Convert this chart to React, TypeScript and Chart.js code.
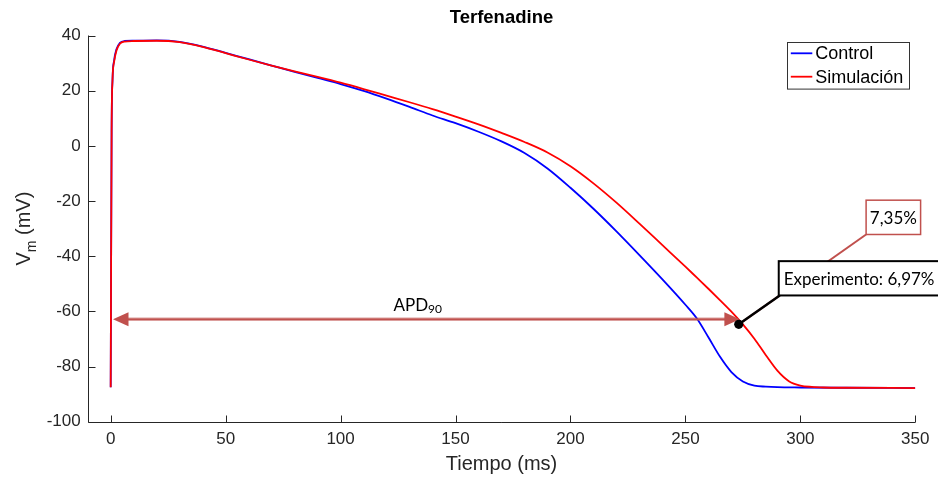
import React, { useEffect, useRef } from 'react';
import { Chart, registerables } from 'chart.js';

Chart.register(...registerables);

// ---- Data ----
const timeControl = [0, 0.4, 0.8, 1.5, 2.5, 4, 6, 10, 20, 30, 40, 50, 60, 70, 80, 90, 100, 110, 120, 130, 140, 150, 160, 170, 180, 190, 200, 210, 220, 230, 240, 250, 255, 260, 265, 270, 275, 280, 285, 290, 300, 320, 350];
const vmControl = [-87.5, 5, 24, 31, 35, 37.3, 38.0, 38.1, 38.2, 37.7, 36.0, 33.7, 31.4, 29.1, 26.8, 24.6, 22.4, 19.9, 17.1, 14.1, 11.0, 8.2, 5.1, 1.6, -2.6, -8.2, -15.2, -22.8, -31.0, -39.6, -48.4, -57.6, -62.6, -69.4, -76.4, -82.0, -85.4, -86.9, -87.3, -87.5, -87.6, -87.7, -87.8];

const timeSimulacion = [0, 0.4, 0.8, 1.5, 2.5, 4, 6, 10, 20, 30, 40, 50, 60, 70, 80, 90, 100, 110, 120, 130, 140, 150, 160, 170, 180, 190, 200, 210, 220, 230, 240, 250, 255, 260, 265, 270, 275, 280, 285, 290, 295, 300, 305, 310, 320, 350];
const vmSimulacion = [-87.5, 5, 24, 30.5, 34.5, 37, 37.8, 38.0, 38.1, 37.6, 35.9, 33.6, 31.3, 29.1, 27.0, 25.0, 22.9, 20.6, 18.2, 15.8, 13.3, 10.6, 7.8, 4.7, 1.4, -2.4, -7.4, -13.6, -20.6, -28.2, -36.0, -43.8, -47.8, -51.8, -55.9, -60.1, -64.7, -69.9, -75.9, -81.5, -85.3, -86.9, -87.4, -87.6, -87.7, -87.8];

const seriesLabels = ['Control', 'Simulación'];
const seriesColors = ['#0000FF', '#FF0000'];
const xTickValues = [0, 50, 100, 150, 200, 250, 300, 350];
const yTickValues = [-100, -80, -60, -40, -20, 0, 20, 40];
const xRange = [-10, 350];
const yRange = [-100, 40];

const chartTitle = 'Terfenadine';
const xAxisTitle = 'Tiempo (ms)';
const yAxisMain = 'V';
const yAxisSub = 'm';
const yAxisRest = ' (mV)';

// APD90 annotation (data coordinates)
const apdLevel = -62.9;
const apdStartTime = 1.0;
const apdEndTime = 273.7;
const apdLabelTime = 123;
const markerTime = 273.2;
const markerVm = -64.7;
const experimentoText = 'Experimento: 6,97%';
const experimentoAnchor = [290.6, -41.8]; // top-left
const simulacionText = '7,35%';
const simulacionAnchor = [328.6, -19.7]; // top-left

const AXIS_FONT = '"Liberation Sans", Arial, Helvetica, sans-serif';
const NOTE_FONT = 'Lato, "Open Sans", sans-serif';
const ANNOT_RED = '#C0504D';

const overlayPlugin = {
  id: 'overlay',
  afterDraw(chart: any) {
    const { ctx, chartArea, scales } = chart;
    const xs = scales.x;
    const ys = scales.y;
    const L = chartArea.left;
    const R = chartArea.right;
    const T = chartArea.top;
    const B = chartArea.bottom;

    ctx.save();
    // axis lines
    ctx.strokeStyle = '#262626';
    ctx.lineWidth = 1;
    ctx.beginPath();
    const lx = Math.round(L) + 0.5;
    const by = Math.round(B) + 0.5;
    ctx.moveTo(lx, T);
    ctx.lineTo(lx, by);
    ctx.lineTo(R, by);
    ctx.stroke();
    // inward ticks
    ctx.beginPath();
    xTickValues.forEach((v) => {
      const px = Math.round(xs.getPixelForValue(v)) + 0.5;
      ctx.moveTo(px, by);
      ctx.lineTo(px, by - 7);
    });
    yTickValues.forEach((v) => {
      const py = Math.round(ys.getPixelForValue(v)) + 0.5;
      ctx.moveTo(lx, py);
      ctx.lineTo(lx + 7, py);
    });
    ctx.stroke();

    // APD arrow
    const ay = ys.getPixelForValue(apdLevel);
    const ax0 = xs.getPixelForValue(apdStartTime);
    const ax1 = xs.getPixelForValue(apdEndTime);
    const headL = 15.5;
    const headW = 7;
    ctx.strokeStyle = 'rgba(192,80,77,0.55)';
    ctx.lineWidth = 3.5;
    ctx.beginPath();
    ctx.moveTo(ax0 + headL - 1, ay);
    ctx.lineTo(ax1 - headL + 1, ay);
    ctx.stroke();
    ctx.strokeStyle = ANNOT_RED;
    ctx.lineWidth = 1.5;
    ctx.beginPath();
    ctx.moveTo(ax0 + headL - 1, ay);
    ctx.lineTo(ax1 - headL + 1, ay);
    ctx.stroke();
    ctx.fillStyle = ANNOT_RED;
    ctx.beginPath();
    ctx.moveTo(ax0, ay);
    ctx.lineTo(ax0 + headL, ay - headW);
    ctx.lineTo(ax0 + headL, ay + headW);
    ctx.closePath();
    ctx.fill();
    ctx.beginPath();
    ctx.moveTo(ax1, ay);
    ctx.lineTo(ax1 - headL, ay - headW);
    ctx.lineTo(ax1 - headL, ay + headW);
    ctx.closePath();
    ctx.fill();

    // APD90 label
    ctx.fillStyle = '#000';
    ctx.textBaseline = 'alphabetic';
    ctx.textAlign = 'left';
    const lblX = xs.getPixelForValue(apdLabelTime);
    ctx.font = '17px ' + NOTE_FONT;
    ctx.fillText('APD', lblX, ay - 8.6);
    const wApd = ctx.measureText('APD').width;
    ctx.font = '12px ' + NOTE_FONT;
    ctx.fillText('90', lblX + wApd, ay - 6.5);

    // marker and leader lines
    const mx = xs.getPixelForValue(markerTime);
    const my = ys.getPixelForValue(markerVm);
    const sLeft = xs.getPixelForValue(simulacionAnchor[0]);
    const sTop = ys.getPixelForValue(simulacionAnchor[1]);
    const sW = 54.5;
    const sH = 34.3;
    const eLeft = xs.getPixelForValue(experimentoAnchor[0]);
    const eTop = ys.getPixelForValue(experimentoAnchor[1]);
    const eW = 175;
    const eH = 34.3;

    ctx.strokeStyle = ANNOT_RED;
    ctx.lineWidth = 2;
    ctx.beginPath();
    ctx.moveTo(sLeft, sTop + sH);
    ctx.lineTo(mx, my);
    ctx.stroke();

    ctx.strokeStyle = '#000';
    ctx.lineWidth = 2.5;
    ctx.beginPath();
    ctx.moveTo(mx, my);
    ctx.lineTo(eLeft + 1, eTop + eH);
    ctx.stroke();

    ctx.fillStyle = '#000';
    ctx.beginPath();
    ctx.arc(mx, my, 4.6, 0, Math.PI * 2);
    ctx.fill();

    // Experimento box
    ctx.fillStyle = '#fff';
    ctx.fillRect(eLeft, eTop, eW, eH);
    ctx.strokeStyle = '#000';
    ctx.lineWidth = 2;
    ctx.strokeRect(eLeft, eTop, eW, eH);
    ctx.fillStyle = '#000';
    ctx.font = '17px ' + NOTE_FONT;
    ctx.textBaseline = 'middle';
    ctx.fillText(experimentoText, eLeft + 5, eTop + eH / 2 + 1);

    // Simulacion box
    ctx.fillStyle = '#fff';
    ctx.fillRect(sLeft, sTop, sW, sH);
    ctx.strokeStyle = ANNOT_RED;
    ctx.lineWidth = 1.5;
    ctx.strokeRect(sLeft, sTop, sW, sH);
    ctx.fillStyle = '#000';
    ctx.textAlign = 'center';
    ctx.fillText(simulacionText, sLeft + sW / 2, sTop + sH / 2 + 1);

    // Legend
    const lgW = 122;
    const lgH = 46.6;
    const lgR = R - 6;
    const lgT = T + 6.2;
    const lgL = lgR - lgW;
    ctx.fillStyle = '#fff';
    ctx.fillRect(lgL, lgT, lgW, lgH);
    ctx.strokeStyle = '#333';
    ctx.lineWidth = 1;
    ctx.strokeRect(Math.round(lgL) + 0.5, Math.round(lgT) + 0.5, lgW, lgH);
    ctx.font = '18px ' + AXIS_FONT;
    ctx.textAlign = 'left';
    ctx.textBaseline = 'middle';
    seriesLabels.forEach((lab, i) => {
      const yy = lgT + 11.6 + i * 23.4;
      ctx.strokeStyle = seriesColors[i];
      ctx.lineWidth = 1.8;
      ctx.beginPath();
      ctx.moveTo(lgL + 3.5, yy);
      ctx.lineTo(lgL + 25, yy);
      ctx.stroke();
      ctx.fillStyle = '#000';
      ctx.fillText(lab, lgL + 28, yy + 1);
    });

    // Title
    const cx = (L + R) / 2;
    ctx.fillStyle = '#000';
    ctx.font = 'bold 18.5px ' + AXIS_FONT;
    ctx.textAlign = 'center';
    ctx.textBaseline = 'middle';
    ctx.fillText(chartTitle, cx, 18);

    // X axis title
    ctx.fillStyle = '#262626';
    ctx.font = '20px ' + AXIS_FONT;
    ctx.fillText(xAxisTitle, cx, 464);

    // Y axis title with subscript
    ctx.save();
    ctx.translate(29.5, (T + B) / 2);
    ctx.rotate(-Math.PI / 2);
    ctx.textAlign = 'left';
    ctx.textBaseline = 'alphabetic';
    ctx.font = '20px ' + AXIS_FONT;
    const wV = ctx.measureText(yAxisMain).width;
    const wRest = ctx.measureText(yAxisRest).width;
    ctx.font = '14px ' + AXIS_FONT;
    const wm = ctx.measureText(yAxisSub).width;
    const start = -(wV + wm + wRest) / 2;
    ctx.font = '20px ' + AXIS_FONT;
    ctx.fillText(yAxisMain, start, 0);
    ctx.font = '14px ' + AXIS_FONT;
    ctx.fillText(yAxisSub, start + wV, 6);
    ctx.font = '20px ' + AXIS_FONT;
    ctx.fillText(yAxisRest, start + wV + wm, 0);
    ctx.restore();

    ctx.restore();
  },
};

export default function App() {
  const canvasRef = useRef<HTMLCanvasElement | null>(null);

  useEffect(() => {
    const canvas = canvasRef.current;
    if (!canvas) return;
    const chart = new Chart(canvas, {
      type: 'line',
      data: {
        datasets: [
          {
            label: seriesLabels[0],
            data: timeControl.map((t, i) => ({ x: t, y: vmControl[i] })),
            borderColor: seriesColors[0],
            borderWidth: 1.8,
            pointRadius: 0,
            cubicInterpolationMode: 'monotone',
            fill: false,
            order: 1,
          },
          {
            label: seriesLabels[1],
            data: timeSimulacion.map((t, i) => ({ x: t, y: vmSimulacion[i] })),
            borderColor: seriesColors[1],
            borderWidth: 1.8,
            pointRadius: 0,
            cubicInterpolationMode: 'monotone',
            fill: false,
            order: 0,
          },
        ],
      },
      options: {
        animation: false,
        responsive: false,
        maintainAspectRatio: false,
        layout: { padding: { top: 35.5, right: 22.7, left: 0, bottom: 0 } },
        plugins: {
          legend: { display: false },
          title: { display: false },
          tooltip: { enabled: false },
        },
        scales: {
          x: {
            type: 'linear',
            min: xRange[0],
            max: xRange[1],
            grid: { display: false, drawTicks: false },
            border: { display: false },
            afterBuildTicks: (scale: any) => {
              scale.ticks = xTickValues.map((v) => ({ value: v }));
            },
            afterFit: (scale: any) => {
              scale.height = 55.3;
            },
            ticks: {
              padding: 7,
              color: '#262626',
              font: { family: AXIS_FONT, size: 17 },
              maxRotation: 0,
              autoSkip: false,
            },
          },
          y: {
            type: 'linear',
            min: yRange[0],
            max: yRange[1],
            grid: { display: false, drawTicks: false },
            border: { display: false },
            afterBuildTicks: (scale: any) => {
              scale.ticks = yTickValues.map((v) => ({ value: v }));
            },
            afterFit: (scale: any) => {
              scale.width = 87.7;
            },
            ticks: {
              padding: 7,
              color: '#262626',
              font: { family: AXIS_FONT, size: 17 },
              autoSkip: false,
            },
          },
        },
      },
      plugins: [overlayPlugin],
    });
    return () => chart.destroy();
  }, []);

  return (
    <div style={{ position: 'fixed', left: 0, top: 0, width: 938, height: 477, background: '#fff' }}>
      <canvas ref={canvasRef} width={938} height={477} style={{ display: 'block' }} />
    </div>
  );
}
